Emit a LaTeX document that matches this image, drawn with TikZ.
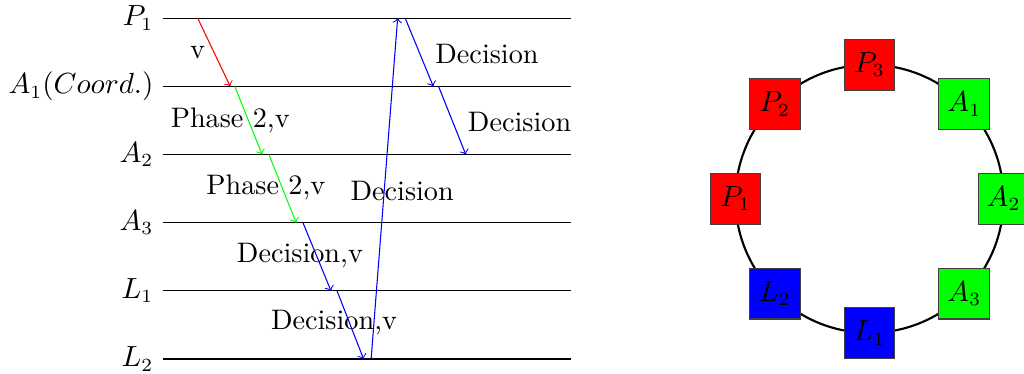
\documentclass[tikz,border=0pt]{standalone}
\usetikzlibrary{arrows}
\tikzset{
  msg/.style={->,thin},
  agent/.style={draw=black!75,minimum size=.67cm,inner sep=0pt}
}
\begin{document}
\begin{tikzpicture}[font=\fontsize{10.6}{12.7}\selectfont]
\useasboundingbox (0,-.185) rectangle (13.52,4.74);
% time lines of the processes
\foreach \y/\n/\t in {4.5/p1/P_1,3.6/a1/A_1(Coord.),2.7/a2/A_2,1.8/a3/A_3,0.9/l1/L_1,0/l2/L_2}{
  \coordinate (\n w) at (2.15,\y);
  \coordinate (\n e) at (7.54,\y);
  \draw (\n w)--(\n e);
  \node[anchor=east] (\n lab) at (\n w) {$\t$};
}
% send / receive points
\coordinate (s1) at (2.61,4.5); \coordinate (r1) at (3.04,3.6);
\coordinate (s2) at (3.10,3.6); \coordinate (r2) at (3.46,2.7);
\coordinate (s3) at (3.55,2.7); \coordinate (r3) at (3.91,1.8);
\coordinate (s4) at (4.00,1.8); \coordinate (r4) at (4.37,0.9);
\coordinate (s5) at (4.45,0.9); \coordinate (r5) at (4.80,0);
\coordinate (s6) at (4.90,0);   \coordinate (r6) at (5.25,4.5);
\coordinate (s7) at (5.35,4.5); \coordinate (r7) at (5.72,3.6);
\coordinate (s8) at (5.79,3.6); \coordinate (r8) at (6.15,2.7);
\draw[msg,red] (s1)--(r1);
\draw[msg,green] (s2)--(r2);
\draw[msg,green] (s3)--(r3);
\draw[msg,blue] (s4)--(r4);
\draw[msg,blue] (s5)--(r5);
\draw[msg,blue] (s6)--(r6);
\draw[msg,blue] (s7)--(r7);
\draw[msg,blue] (s8)--(r8);
% message labels
\node (m1) at (2.61,4.05){v};
\node (m2) at (3.04,3.15){Phase 2,v};
\node (m3) at (3.51,2.26){Phase 2,v};
\node (m4) at (3.96,1.36){Decision,v};
\node (m5) at (4.41,0.475){Decision,v};
\node (m6) at (5.31,2.22){Decision};
\node (m7) at (6.43,4.03){Decision};
\node (m8) at (6.86,3.13){Decision};
% ring
\coordinate (ring) at (11.48,2.115);
\draw[thick] (ring) circle (1.77);
\foreach \a/\n/\c/\t in {180/P1/red/P_1,135/P2/red/P_2,90/P3/red/P_3,45/A1/green/A_1,
  0/A2/green/A_2,315/A3/green/A_3,270/L1/blue/L_1,225/L2/blue/L_2}
  \node[agent,fill=\c] (\n) at ([shift={(\a:1.77)}]ring) {$\t$};
\end{tikzpicture}
\end{document}
